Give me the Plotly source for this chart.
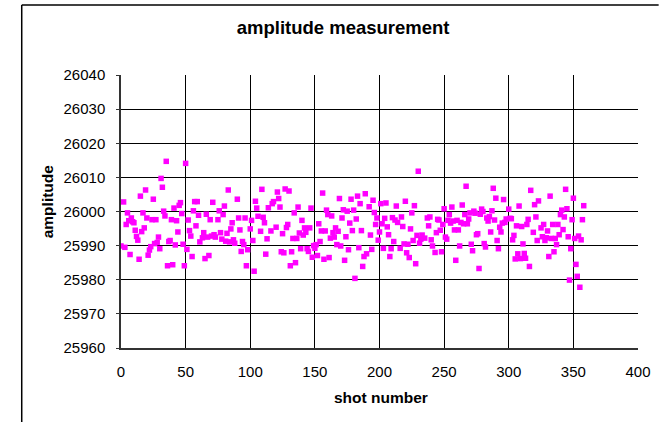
import plotly.graph_objects as go

# ---- data ----
shot_number = [
    0, 2, 3, 4, 5, 6, 7, 8, 9, 10,
    11, 12, 13, 14, 15, 16, 17, 18, 19, 20,
    21, 22, 23, 24, 25, 26, 27, 28, 29, 30,
    31, 32, 33, 34, 35, 36, 37, 38, 39, 40,
    41, 42, 43, 44, 45, 46, 47, 48, 49, 50,
    51, 52, 53, 54, 55, 56, 57, 58, 59, 60,
    61, 63, 64, 65, 66, 67, 68, 69, 70, 71,
    72, 73, 75, 76, 77, 78, 79, 80, 81, 82,
    83, 84, 85, 86, 87, 88, 90, 91, 92, 93,
    94, 95, 96, 97, 98, 100, 101, 102, 103, 104,
    105, 106, 108, 109, 110, 111, 112, 113, 114, 116,
    117, 118, 120, 121, 122, 123, 124, 125, 126, 127,
    128, 129, 130, 131, 132, 133, 134, 135, 136, 137,
    138, 139, 140, 141, 142, 143, 144, 145, 146, 147,
    148, 149, 150, 151, 152, 153, 154, 155, 156, 157,
    158, 159, 160, 161, 162, 163, 164, 165, 166, 167,
    168, 169, 170, 171, 172, 173, 174, 175, 176, 177,
    178, 179, 180, 181, 182, 183, 184, 185, 186, 187,
    188, 189, 190, 192, 193, 194, 195, 196, 197, 198,
    199, 200, 201, 202, 203, 204, 205, 206, 207, 208,
    209, 210, 211, 212, 213, 214, 216, 217, 218, 219,
    220, 221, 222, 223, 224, 225, 226, 227, 228, 229,
    230, 231, 232, 233, 235, 237, 238, 239, 240, 241,
    243, 244, 245, 246, 247, 248, 249, 250, 251, 252,
    253, 254, 255, 256, 257, 258, 259, 260, 261, 262,
    263, 264, 265, 266, 267, 268, 269, 270, 271, 272,
    273, 274, 275, 276, 277, 278, 279, 280, 281, 282,
    283, 284, 285, 286, 287, 288, 289, 290, 291, 292,
    293, 294, 295, 296, 297, 298, 300, 301, 302, 303,
    304, 305, 306, 307, 308, 309, 310, 311, 312, 313,
    314, 315, 316, 317, 319, 320, 321, 322, 323, 325,
    326, 327, 328, 329, 330, 331, 332, 333, 334, 335,
    336, 337, 338, 339, 340, 341, 342, 343, 344, 345,
    346, 347, 348, 349, 350, 351, 352, 353, 354, 355,
    356, 357, 358,
]

amplitude = [
    25989.9, 26002.8, 25989.5, 25996.2, 25999.6, 25997.3, 25987.4, 25998.1, 25997.0, 25996.7,
    25994.5, 25992.7, 25991.6, 25986.0, 26004.5, 25994.1, 25999.6, 25995.2, 26006.3, 25998.1,
    25987.2, 25988.7, 25989.7, 25997.6, 26003.6, 25990.6, 25997.6, 25990.9, 25992.5, 25989.1,
    26009.7, 26007.1, 26000.1, 25998.7, 26014.7, 25984.1, 25991.2, 25991.5, 25997.6, 25984.4,
    26001.0, 25990.2, 25997.3, 25994.0, 26001.8, 26002.6, 25999.4, 25990.4, 25984.1, 26014.1,
    25988.9, 25997.5, 25994.4, 25992.8, 25986.8, 26000.2, 26002.9, 25995.8, 26002.9, 25998.9,
    25991.1, 25992.3, 25993.8, 25986.2, 25999.2, 25992.5, 25987.1, 25997.6, 25992.8, 26002.7,
    25993.2, 25992.5, 25997.6, 26000.2, 25993.8, 25991.9, 25999.1, 26001.6, 25991.3, 25993.6,
    26006.3, 25991.1, 25994.9, 25996.7, 25991.7, 25990.7, 26003.6, 25998.1, 25994.6, 25988.3,
    25991.2, 25990.3, 25998.1, 25984.1, 25988.8, 25994.9, 25997.4, 25991.5, 25982.5, 26003.0,
    26001.0, 25998.6, 25994.2, 26006.5, 25998.3, 25996.7, 25987.5, 25992.0, 26001.1, 25994.3,
    26002.3, 26002.9, 25995.4, 26005.7, 26003.8, 26001.3, 25988.2, 25993.5, 25987.9, 26006.6,
    25995.3, 25996.2, 26006.0, 25984.1, 25988.2, 25992.1, 25999.6, 25985.0, 25992.1, 26001.3,
    25993.7, 25989.1, 25997.4, 25993.1, 25995.2, 25993.9, 25989.1, 25988.3, 25995.2, 26001.0,
    25986.6, 25990.0, 25989.2, 25990.3, 25987.1, 25996.4, 25991.2, 25994.3, 26005.4, 25986.0,
    25994.3, 26000.4, 25999.1, 25986.5, 25992.2, 25998.7, 25993.8, 25992.5, 25995.2, 25990.3,
    25994.2, 26003.8, 25989.9, 25998.1, 26000.5, 25985.7, 25992.6, 26000.1, 25988.8, 25996.6,
    26003.6, 25994.4, 26000.4, 25980.4, 25997.8, 26004.5, 25989.4, 26002.3, 25994.4, 25983.9,
    25986.8, 26005.2, 25987.6, 26001.4, 25993.1, 25988.9, 26003.3, 25999.7, 25996.2, 25998.1,
    25991.6, 25994.0, 26002.3, 25996.4, 25989.2, 25998.0, 26002.5, 25995.5, 25993.2, 25986.8,
    25989.1, 25998.2, 25991.2, 25997.5, 26001.6, 25996.8, 25989.2, 25998.4, 25995.6, 25990.5,
    26003.0, 25987.9, 25990.4, 25986.5, 25994.9, 25999.6, 25991.5, 26001.7, 25984.7, 25993.0,
    26011.8, 25990.7, 25991.9, 25993.1, 25992.2, 25998.1, 25995.8, 25998.4, 25991.7, 25989.9,
    25988.0, 25993.8, 25997.7, 25997.5, 25994.5, 25988.2, 25996.2, 26000.8, 25992.5, 25991.9,
    25997.4, 25999.1, 25996.6, 26001.3, 25997.2, 25994.6, 25985.7, 25997.4, 25994.6, 25989.9,
    25996.8, 26001.9, 25996.4, 25999.1, 26007.4, 25996.4, 25997.8, 25999.6, 25990.4, 25988.5,
    26000.1, 25999.5, 25993.2, 25993.5, 25983.3, 25999.2, 26000.7, 26000.0, 25990.6, 25989.6,
    25998.1, 25997.2, 25998.5, 25994.0, 26000.2, 26006.8, 25997.5, 26003.9, 25991.5, 25989.1,
    25995.4, 25994.0, 25996.6, 26003.5, 25996.8, 25997.8, 26000.7, 25998.0, 25997.9, 25991.7,
    25993.0, 25986.1, 25995.8, 25987.6, 26001.6, 25986.2, 25995.6, 25990.5, 25987.7, 25986.3,
    25996.2, 25997.7, 25983.9, 26006.2, 25993.9, 26002.0, 25998.4, 25991.5, 26003.1, 25995.2,
    25992.6, 25996.2, 25991.5, 25992.3, 25994.3, 25986.8, 26004.5, 25992.1, 25996.2, 25988.2,
    25992.1, 25990.3, 25996.2, 25993.2, 25999.1, 26000.4, 25994.7, 25998.4, 26006.5, 26000.8,
    25992.6, 25979.9, 25989.1, 25997.6, 26003.9, 25992.1, 25984.5, 25981.0, 25992.8, 25977.8,
    25991.7, 25997.6, 26001.7,
]

chart_title = "amplitude measurement"
x_title = "shot number"
y_title = "amplitude"

# ---- layout geometry (pixels) ----
W, H = 663, 422
ML, MR, MT, MB = 121, 16, 75, 74
PW = W - ML - MR
PH = H - MT - MB


def px_x(px):
    return (px - ML) / PW


def px_y(py):
    return (H - MB - py) / PH


FONT = "Liberation Sans, Arial, Helvetica, sans-serif"

fig = go.Figure()
fig.add_trace(go.Scatter(
    x=shot_number,
    y=amplitude,
    mode="markers",
    marker=dict(symbol="square", size=5.5, color="#FF00FF", line=dict(width=0)),
    showlegend=False,
))

fig.update_layout(
    width=W,
    height=H,
    margin=dict(l=ML, r=MR, t=MT, b=MB, pad=0),
    paper_bgcolor="white",
    plot_bgcolor="white",
    font=dict(family=FONT, color="black", size=15),
    title=dict(
        text="<b>" + chart_title + "</b>",
        font=dict(family=FONT, size=18.5, color="black"),
        x=px_x(347), xref="paper", xanchor="center",
        y=1 - 28 / H, yref="container", yanchor="middle",
    ),
    xaxis=dict(
        range=[0, 400],
        tick0=0,
        dtick=50,
        showgrid=True,
        gridcolor="#000000",
        gridwidth=1,
        showline=True,
        linecolor="#333333",
        linewidth=1.5,
        ticks="",
        tickfont=dict(family=FONT, size=15, color="black"),
        ticklabelstandoff=9,
        zeroline=False,
        fixedrange=True,
    ),
    yaxis=dict(
        range=[25960, 26040],
        tick0=25960,
        dtick=10,
        showgrid=True,
        gridcolor="#000000",
        gridwidth=1,
        showline=True,
        linecolor="#333333",
        linewidth=1.5,
        ticks="outside",
        ticklen=3,
        tickcolor="#333333",
        tickfont=dict(family=FONT, size=15, color="black"),
        ticklabelstandoff=8,
        tickformat="d",
        zeroline=False,
        fixedrange=True,
    ),
    annotations=[
        dict(text="<b>" + x_title + "</b>", xref="paper", yref="paper",
             x=px_x(386), y=px_y(397), xanchor="center", yanchor="middle",
             showarrow=False, font=dict(family=FONT, size=15.5, color="black")),
        dict(text="<b>" + y_title + "</b>", xref="paper", yref="paper",
             x=px_x(46), y=px_y(201), xanchor="center", yanchor="middle",
             textangle=-90, showarrow=False,
             font=dict(family=FONT, size=15.5, color="black")),
    ],
    shapes=[
        dict(type="line", xref="paper", yref="paper",
             x0=px_x(20), x1=px_x(20), y0=px_y(5), y1=px_y(H + 5),
             line=dict(color="black", width=1.5)),
        dict(type="line", xref="paper", yref="paper",
             x0=px_x(20), x1=px_x(W + 5), y0=px_y(5), y1=px_y(5),
             line=dict(color="black", width=1.5)),
    ],
)

fig.write_html("out.html")
